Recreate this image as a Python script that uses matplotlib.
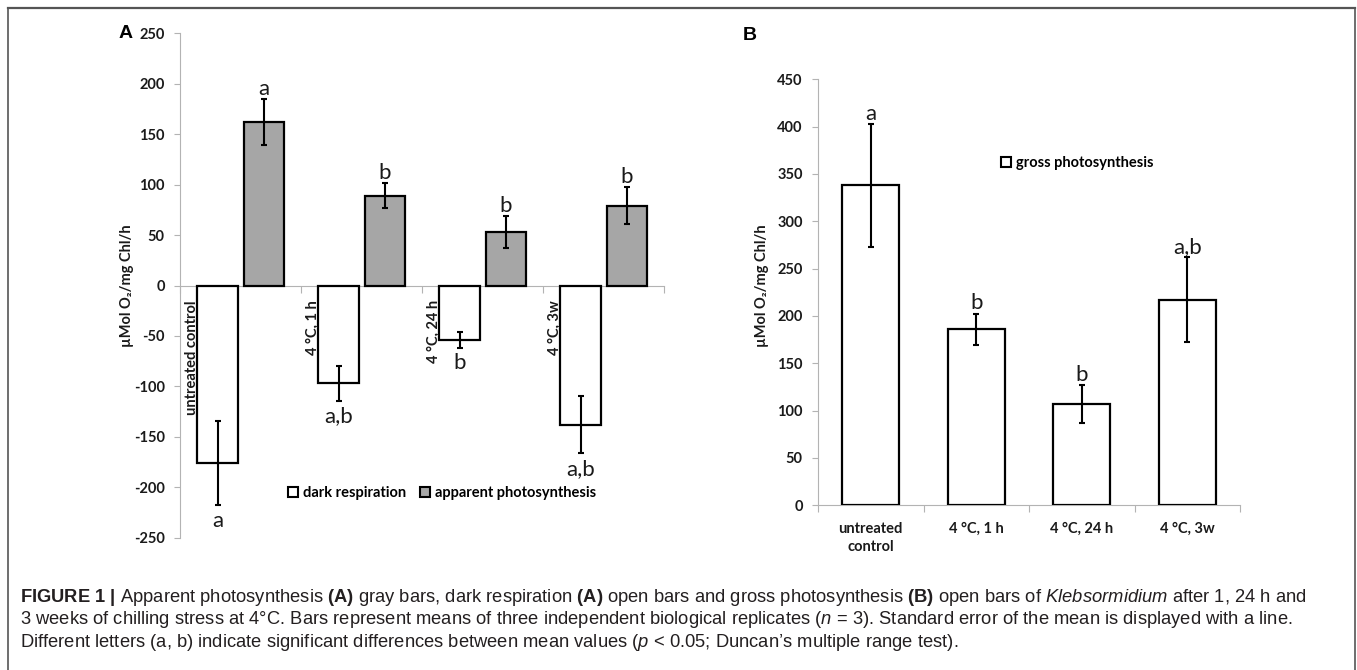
import numpy as np
import matplotlib
matplotlib.use('Agg')
import matplotlib.pyplot as plt
from matplotlib.patches import Patch
from matplotlib.lines import Line2D

plt.rcParams['font.family'] = ['Lato', 'DejaVu Sans']
plt.rcParams['axes.unicode_minus'] = False
plt.rcParams['mathtext.fontset'] = 'custom'
plt.rcParams['mathtext.rm'] = 'Liberation Sans'
plt.rcParams['mathtext.bf'] = 'Liberation Sans:bold'
plt.rcParams['mathtext.it'] = 'Liberation Sans:italic'

# data
conditions = ['untreated control', '4 °C, 1 h', '4 °C, 24 h', '4 °C, 3w']
conditions_b = ['untreated\ncontrol', '4 °C, 1 h', '4 °C, 24 h', '4 °C, 3w']

dark_resp = [-176, -97, -54, -138]
dark_resp_err = [42, 17, 7.5, 28.5]
dark_resp_sig = ['a', 'a,b', 'b', 'a,b']

apparent_ps = [162, 89, 53, 79]
apparent_ps_err = [23, 12.5, 16, 18.5]
apparent_ps_sig = ['a', 'b', 'b', 'b']

gross_ps = [338, 186, 107, 217]
gross_ps_err = [65, 16.5, 20, 45]
gross_ps_sig = ['a', 'b', 'b', 'a,b']

W, H = 1357, 670
fig = plt.figure(figsize=(W / 100, H / 100), dpi=100)


def fx(px):
    return px / W


def fy(py):
    return 1 - py / H


GRAY = '#a6a6a6'
AXGRAY = '#b3b3b3'
TXT = '#1a1a1a'
FS = 10.5      # axis text size
LFS = 16       # significance letters
ylab = 'µMol O₂/mg Chl/h'
err_kw = dict(ecolor='black', elinewidth=1.5, capsize=2, capthick=1.5, zorder=4)


def style_axes(ax):
    for s in ['top', 'right']:
        ax.spines[s].set_visible(False)
    ax.spines['left'].set_color(AXGRAY)
    ax.spines['bottom'].set_color(AXGRAY)
    ax.spines['bottom'].set_position(('data', 0))
    ax.set_xlim(0, 4)
    ax.set_xticks([0, 1, 2, 3, 4])
    ax.set_xticklabels([])
    ax.tick_params(axis='x', direction='out', length=5, color=AXGRAY)
    ax.tick_params(axis='y', direction='out', length=4, color=AXGRAY, pad=7,
                   labelsize=FS, labelcolor=TXT)
    for lbl in ax.get_yticklabels():
        lbl.set_fontweight('bold')


# ---- panel A ----
axA = fig.add_axes([fx(180), fy(537.7), fx(664) - fx(180), (537.7 - 33.3) / H])
x = np.arange(4)
xw = x + 0.31
xg = x + 0.695
axA.bar(xw, dark_resp, 0.334, color='white', edgecolor='black', lw=1.6,
        yerr=dark_resp_err, error_kw=err_kw, zorder=3)
axA.bar(xg, apparent_ps, 0.334, color=GRAY, edgecolor='black', lw=1.6,
        yerr=apparent_ps_err, error_kw=err_kw, zorder=3)
axA.set_ylim(-250, 250)
axA.set_yticks(range(-250, 251, 50))
style_axes(axA)

for i in range(4):
    axA.annotate(dark_resp_sig[i], xy=(xw[i], dark_resp[i] - dark_resp_err[i]),
                 xytext=(0, -4), textcoords='offset points', ha='center', va='top',
                 fontsize=LFS, color=TXT)
    axA.annotate(apparent_ps_sig[i], xy=(xg[i], apparent_ps[i] + apparent_ps_err[i]),
                 xytext=(0, 3), textcoords='offset points', ha='center', va='baseline',
                 fontsize=LFS, color=TXT)
    axA.annotate(conditions[i], xy=(xw[i] - 0.167, 0), xytext=(1.0, -10.5),
                 textcoords='offset points', rotation=90, ha='right', va='top',
                 fontsize=FS, fontweight='bold', color=TXT)

fig.text(fx(127), fy(286), ylab, rotation=90, ha='center', va='center',
         fontsize=FS, fontweight='bold', color=TXT)
fig.text(fx(119), fy(34), 'A', ha='left', va='center', fontsize=14,
         fontweight='bold', family='Liberation Sans')

handlesA = [Patch(facecolor='white', edgecolor='black', lw=1.5, label='dark respiration'),
            Patch(facecolor=GRAY, edgecolor='black', lw=1.5, label='apparent photosynthesis')]
fig.legend(handles=handlesA, loc='center left', bbox_to_anchor=(fx(288), fy(493)),
           ncol=2, frameon=False, prop={'weight': 'bold', 'size': FS},
           handlelength=0.7, handleheight=0.7, handletextpad=0.3,
           columnspacing=1.0, borderpad=0, borderaxespad=0)

# ---- panel B ----
axB = fig.add_axes([fx(818), fy(505.3), fx(1240) - fx(818), (505.3 - 79.3) / H])
xb = x + 0.5
axB.bar(xb, gross_ps, 0.54, color='white', edgecolor='black', lw=1.6,
        yerr=gross_ps_err, error_kw=err_kw, zorder=3)
axB.set_ylim(0, 450)
axB.set_yticks(range(0, 451, 50))
style_axes(axB)

for i in range(4):
    axB.annotate(gross_ps_sig[i], xy=(xb[i], gross_ps[i] + gross_ps_err[i]),
                 xytext=(0, 3), textcoords='offset points', ha='center', va='baseline',
                 fontsize=LFS, color=TXT)
    axB.annotate(conditions_b[i], xy=(xb[i], 0), xytext=(0, -12),
                 textcoords='offset points', ha='center', va='top', linespacing=1.35,
                 fontsize=FS, fontweight='bold', color=TXT)

fig.text(fx(762), fy(286), ylab, rotation=90, ha='center', va='center',
         fontsize=FS, fontweight='bold', color=TXT)
fig.text(fx(743), fy(35), 'B', ha='left', va='center', fontsize=14,
         fontweight='bold', family='Liberation Sans')

handlesB = [Patch(facecolor='white', edgecolor='black', lw=1.5, label='gross photosynthesis')]
fig.legend(handles=handlesB, loc='center left', bbox_to_anchor=(fx(1001), fy(163)),
           frameon=False, prop={'weight': 'bold', 'size': FS},
           handlelength=0.7, handleheight=0.7, handletextpad=0.3,
           borderpad=0, borderaxespad=0)

# ---- frame ----
bc = '#555555'
fig.add_artist(Line2D([fx(8), fx(1355)], [fy(8), fy(8)], color=bc, lw=1.6))
fig.add_artist(Line2D([fx(8), fx(8)], [fy(8), 0], color=bc, lw=1.2))
fig.add_artist(Line2D([fx(1355), fx(1355)], [fy(8), 0], color=bc, lw=1.2))

# ---- caption ----
cap = [
    r"$\mathbf{FIGURE\ 1\ |}$ Apparent photosynthesis $\mathbf{(A)}$ gray bars, dark respiration "
    r"$\mathbf{(A)}$ open bars and gross photosynthesis $\mathbf{(B)}$ open bars of "
    r"$\mathit{Klebsormidium}$ after 1, 24 h and",
    r"3 weeks of chilling stress at 4°C. Bars represent means of three independent biological "
    r"replicates ($\mathit{n}$ = 3). Standard error of the mean is displayed with a line.",
    r"Different letters (a, b) indicate significant differences between mean values "
    r"($\mathit{p}$ < 0.05; Duncan’s multiple range test).",
]
for k, line in enumerate(cap):
    fig.text(fx(20), fy(602 + k * 22.5), line, ha='left', va='baseline',
             fontsize=13.25, family='Liberation Sans', color='#231f20')

fig.savefig('out.png', dpi=100)
